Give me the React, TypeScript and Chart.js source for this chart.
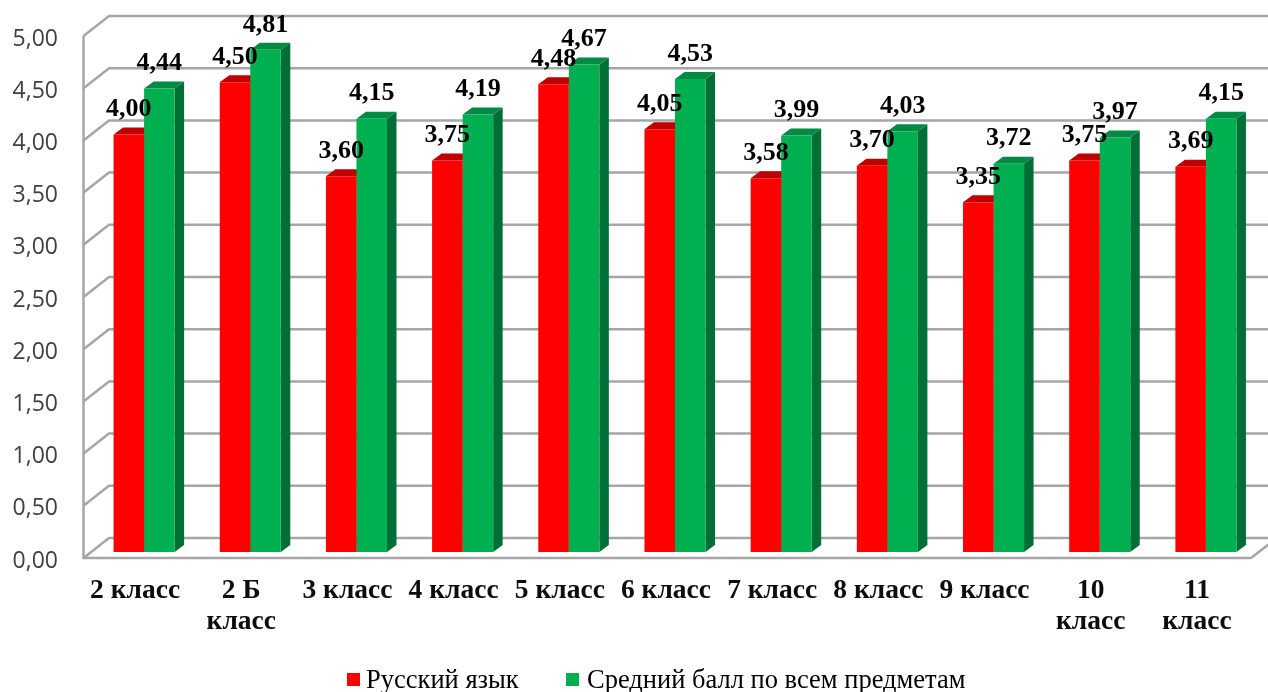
import React, { useEffect, useRef } from "react";
import { Chart, registerables } from "chart.js";

Chart.register(...registerables);

const categories: (string | string[])[] = ["2 класс", ["2 Б", "класс"], "3 класс", "4 класс", "5 класс", "6 класс", "7 класс", "8 класс", "9 класс", ["10", "класс"], ["11", "класс"]];
const russian = [4.0, 4.5, 3.6, 3.75, 4.48, 4.05, 3.58, 3.7, 3.35, 3.75, 3.69];
const average = [4.44, 4.81, 4.15, 4.19, 4.67, 4.53, 3.99, 4.03, 3.72, 3.97, 4.15];
const seriesNames = ["Русский язык", "Средний балл по всем предметам"];
const fronts = ["#ff0000", "#00b050"];
const tops = ["#c00000", "#008a43"];
const sides = ["#c00000", "#006f35"];

const fmt = (v: number) => v.toFixed(2).replace(".", ",");
const DX = 9.5, DY = 7;
const GRID = "#a6a6a6";

const frame = {
  id: "frame",
  beforeDatasetsDraw(chart: any) {
    const { ctx, scales } = chart;
    const y = scales.y;
    ctx.save();
    ctx.strokeStyle = GRID;
    ctx.lineWidth = 2.5;
    const fx = 83.5, bx = 109;
    y.ticks.forEach((t: any) => {
      const p = y.getPixelForValue(t.value);
      ctx.beginPath();
      ctx.moveTo(fx, p + 6);
      ctx.lineTo(bx, p - 14);
      ctx.lineTo(1268, p - 14);
      ctx.stroke();
    });
    const p0 = y.getPixelForValue(0), p5 = y.getPixelForValue(5);
    ctx.beginPath();
    ctx.moveTo(fx, p5 + 6);
    ctx.lineTo(fx, p0 + 6);
    ctx.lineTo(1251, p0 + 6);
    ctx.lineTo(1277, p0 - 14);
    ctx.stroke();
    // 3D depth of the bars
    chart.data.datasets.forEach((_: any, di: number) => {
      chart.getDatasetMeta(di).data.forEach((bar: any) => {
        const p = bar.getProps(["x", "y", "base", "width"], true);
        const l = p.x - p.width / 2, r = p.x + p.width / 2;
        ctx.fillStyle = sides[di];
        ctx.beginPath();
        ctx.moveTo(r, p.y);
        ctx.lineTo(r + DX, p.y - DY);
        ctx.lineTo(r + DX, p.base - DY);
        ctx.lineTo(r, p.base);
        ctx.closePath();
        ctx.fill();
        ctx.fillStyle = tops[di];
        ctx.beginPath();
        ctx.moveTo(l, p.y);
        ctx.lineTo(l + DX, p.y - DY);
        ctx.lineTo(r + DX, p.y - DY);
        ctx.lineTo(r, p.y);
        ctx.closePath();
        ctx.fill();
      });
    });
    ctx.restore();
  },
};

const valueLabels = {
  id: "valueLabels",
  afterDatasetsDraw(chart: any) {
    const { ctx } = chart;
    ctx.save();
    ctx.font = "bold 26px 'Liberation Serif'";
    ctx.fillStyle = "#000";
    ctx.textAlign = "center";
    ctx.textBaseline = "middle";
    chart.data.datasets.forEach((ds: any, di: number) => {
      chart.getDatasetMeta(di).data.forEach((bar: any, i: number) => {
        ctx.fillText(fmt(ds.data[i]), bar.x, bar.y - 25);
      });
    });
    ctx.restore();
  },
};

const legendRow = {
  id: "legendRow",
  afterDraw(chart: any) {
    const { ctx } = chart;
    const boxes = [347, 566], texts = [366, 587];
    ctx.save();
    ctx.font = "26.5px 'Liberation Serif'";
    ctx.textBaseline = "middle";
    ctx.textAlign = "left";
    chart.data.datasets.forEach((ds: any, i: number) => {
      ctx.fillStyle = ds.backgroundColor;
      ctx.fillRect(boxes[i], 673, 13, 13);
      ctx.fillStyle = "#000";
      ctx.fillText(ds.label, texts[i], 681);
    });
    ctx.restore();
  },
};

export default function App() {
  const ref = useRef<HTMLCanvasElement>(null);
  useEffect(() => {
    const chart = new Chart(ref.current as HTMLCanvasElement, {
      type: "bar",
      data: {
        labels: categories as any,
        datasets: [
          { label: seriesNames[0], data: russian, backgroundColor: fronts[0] },
          { label: seriesNames[1], data: average, backgroundColor: fronts[1] },
        ],
      },
      plugins: [frame, valueLabels, legendRow],
      options: {
        responsive: false,
        animation: false,
        layout: { padding: { top: 30, right: 9, bottom: 0, left: 0 } },
        datasets: { bar: { categoryPercentage: 0.575, barPercentage: 1 } },
        plugins: { legend: { display: false }, tooltip: { enabled: false } },
        scales: {
          x: {
            grid: { display: false },
            border: { display: false },
            afterFit: (s: any) => { s.height = 140; s.paddingLeft = 0; s.paddingRight = 0; },
            ticks: {
              color: "#0d0d0d",
              font: { family: "'Liberation Serif'", size: 27.5, weight: "bold", lineHeight: 1.13 },
              maxRotation: 0,
              autoSkip: false,
              padding: 15,
              labelOffset: -9,
            },
          },
          y: {
            min: 0,
            max: 5,
            grid: { display: false },
            border: { display: false },
            afterFit: (s: any) => { s.width = 91; s.paddingTop = 0; s.paddingBottom = 0; },
            ticks: {
              stepSize: 0.5,
              color: "#404040",
              font: { family: "'Open Sans'", size: 23 },
              padding: 25,
              labelOffset: 9,
              callback: (v: any) => fmt(Number(v)),
            },
          },
        },
      } as any,
    });
    return () => chart.destroy();
  }, []);
  return <canvas ref={ref} width={1268} height={692} style={{ position: "fixed", left: 0, top: 0, display: "block", background: "#fff" }} />;
}
